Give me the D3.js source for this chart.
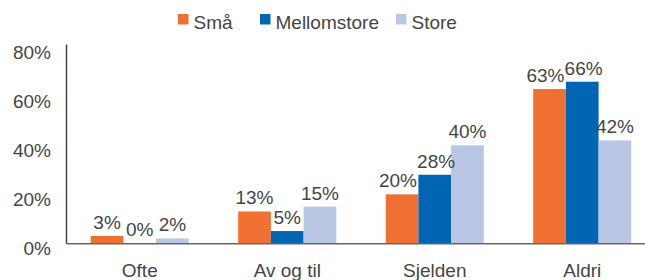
<!DOCTYPE html>
<html lang="no">
<head>
    <meta charset="UTF-8">
    <title>Frekvens etter størrelse</title>
    <script src="https://d3js.org/d3.v7.min.js"></script>
    <style>
        body {
            margin: 0;
            background: #fff;
        }
        svg text {
            font-family: "Liberation Sans", Arial, Helvetica, sans-serif;
            font-size: 19px;
            fill: #454545;
        }
    </style>
</head>
<body>
    <svg id="chart"></svg>

    <script>
        // data
        const categories = ['Ofte', 'Av og til', 'Sjelden', 'Aldri'];
        const seriesNames = ['Små', 'Mellomstore', 'Store'];
        const smaa = [3, 13, 20, 63];
        const mellomstore = [0, 5, 28, 66];
        const store = [2, 15, 40, 42];
        const yTicks = [0, 20, 40, 60, 80];

        const colors = ['#f07033', '#0066b3', '#b9c7e5'];
        const values = [smaa, mellomstore, store];

        const width = 645;
        const height = 280;

        const svg = d3.select('#chart')
            .attr('width', width)
            .attr('height', height);

        const rows = categories.map((c, i) => ({
            category: c,
            vals: seriesNames.map((s, j) => ({ series: s, value: values[j][i] }))
        }));

        const x0 = d3.scaleBand()
            .domain(categories)
            .range([66, 656])
            .paddingInner(0.335)
            .paddingOuter(0.1675);

        const x1 = d3.scaleBand()
            .domain(seriesNames)
            .range([0, x0.bandwidth()]);

        const y = d3.scaleLinear()
            .domain([0, 81.4])
            .range([243.3, 44]);

        const color = d3.scaleOrdinal()
            .domain(seriesNames)
            .range(colors);

        // bars
        const groups = svg.selectAll('.group')
            .data(rows)
            .enter().append('g')
            .attr('class', 'group')
            .attr('transform', d => `translate(${x0(d.category)},0)`);

        groups.selectAll('rect')
            .data(d => d.vals)
            .enter().append('rect')
            .attr('x', d => x1(d.series))
            .attr('width', x1.bandwidth())
            .attr('y', d => y(d.value))
            .attr('height', d => y(0) - y(d.value))
            .attr('fill', d => color(d.series));

        // value labels
        groups.each(function() {
            const labels = d3.select(this).selectAll('text.value')
                .data(d => d.vals)
                .enter().append('text')
                .attr('class', 'value')
                .attr('text-anchor', 'middle')
                .attr('x', d => x1(d.series) + x1.bandwidth() / 2)
                .attr('y', d => y(d.value) - 7)
                .text(d => d.value + '%');

            // push apart labels that collide with their neighbour
            const nodes = labels.nodes();
            for (let i = 1; i < nodes.length; i++) {
                const a = nodes[i - 1].getBBox();
                const b = nodes[i].getBBox();
                const vOverlap = Math.abs(a.y - b.y) < a.height;
                const overlap = a.x + a.width - b.x;
                if (vOverlap && overlap > 0) {
                    const ax = +nodes[i - 1].getAttribute('x');
                    const bx = +nodes[i].getAttribute('x');
                    nodes[i - 1].setAttribute('x', ax - overlap * 0.75);
                    nodes[i].setAttribute('x', bx + overlap * 0.25);
                }
            }
        });

        // y axis
        const yAxis = svg.append('g')
            .attr('transform', 'translate(66,0)')
            .call(d3.axisLeft(y).tickValues(yTicks).tickSize(0).tickPadding(15).tickFormat(d => d + '%'));

        yAxis.select('.domain')
            .attr('stroke', '#444')
            .attr('stroke-width', 1.5);

        yAxis.selectAll('text')
            .attr('dy', 11)
            .attr('font-family', null)
            .attr('font-size', null)
            .attr('fill', null);

        // x axis
        const xAxis = svg.append('g')
            .attr('transform', `translate(0,${y(0)})`)
            .call(d3.axisBottom(x0).tickSize(0).tickPadding(20));

        xAxis.select('.domain')
            .attr('stroke', '#666')
            .attr('stroke-width', 1.5);

        xAxis.selectAll('text')
            .attr('font-family', null)
            .attr('font-size', null)
            .attr('fill', null);

        // legend
        const legendX = [178, 260, 396];
        const legend = svg.selectAll('.legend')
            .data(seriesNames)
            .enter().append('g')
            .attr('class', 'legend')
            .attr('transform', (d, i) => `translate(${legendX[i]},14)`);

        legend.append('rect')
            .attr('width', 10.5)
            .attr('height', 10.5)
            .attr('fill', d => color(d));

        legend.append('text')
            .attr('x', 15.5)
            .attr('y', 15.3)
            .text(d => d);
    </script>
</body>
</html>
